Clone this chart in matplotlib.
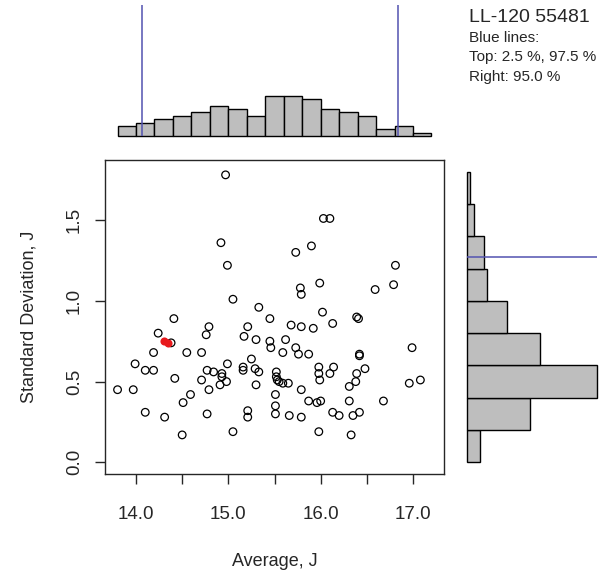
"""
Scatter of average vs standard deviation with marginal histograms.
"""
import matplotlib.pyplot as plt
import numpy as np

plt.rcParams['font.family'] = ['Liberation Sans', 'DejaVu Sans']

# averages and standard deviations
avg = [
    14.97, 16.03, 16.10, 14.92, 15.73, 15.90, 14.99, 16.81, 15.99, 16.79,
    16.59, 15.78, 15.79, 15.05, 15.33, 16.02, 14.41, 15.45, 16.39, 16.41,
    14.79, 15.21, 15.68, 15.79, 16.13, 15.92, 14.24, 14.76, 15.17, 15.30,
    15.45, 15.62, 14.38, 14.19, 14.55, 14.71, 15.46, 15.59, 15.73, 15.76,
    15.87, 16.42, 16.42, 16.99, 13.99, 14.99, 15.25, 14.10, 14.19, 14.77,
    14.84, 14.93, 14.93, 15.16, 15.16, 15.29, 15.33, 15.52, 15.98, 15.98,
    16.14, 16.10, 16.39, 16.48, 14.42, 14.71, 14.98, 15.52, 15.53, 15.55,
    15.59, 15.65, 15.99, 16.38, 17.08, 16.96, 13.80, 13.97, 14.79, 14.91,
    15.30, 15.79, 16.31, 14.59, 15.51, 14.51, 15.87, 16.00, 15.96, 16.31,
    16.68, 15.51, 15.21, 14.10, 14.77, 15.51, 15.66, 16.13, 16.20, 16.35,
    16.42, 14.31, 15.21, 15.79, 15.05, 15.98, 14.50, 16.33,
]
sd = [
    1.78, 1.51, 1.51, 1.36, 1.30, 1.34, 1.22, 1.22, 1.11, 1.10,
    1.07, 1.08, 1.04, 1.01, 0.96, 0.93, 0.89, 0.89, 0.90, 0.89,
    0.84, 0.84, 0.85, 0.84, 0.86, 0.83, 0.80, 0.79, 0.78, 0.76,
    0.75, 0.76, 0.74, 0.68, 0.68, 0.68, 0.71, 0.68, 0.71, 0.67,
    0.67, 0.67, 0.66, 0.71, 0.61, 0.61, 0.64, 0.57, 0.57, 0.57,
    0.56, 0.55, 0.53, 0.59, 0.57, 0.58, 0.56, 0.56, 0.59, 0.55,
    0.59, 0.55, 0.55, 0.58, 0.52, 0.51, 0.50, 0.53, 0.51, 0.50,
    0.49, 0.49, 0.51, 0.50, 0.51, 0.49, 0.45, 0.45, 0.45, 0.48,
    0.48, 0.45, 0.47, 0.42, 0.42, 0.37, 0.38, 0.38, 0.37, 0.38,
    0.38, 0.35, 0.32, 0.31, 0.30, 0.30, 0.29, 0.31, 0.29, 0.29,
    0.31, 0.28, 0.28, 0.28, 0.19, 0.19, 0.17, 0.17,
]
# highlighted sample
red_avg = [14.30, 14.35]
red_sd = [0.75, 0.74]

# marginal histograms (counts per 0.2 bin)
top_edges = np.arange(13.8, 17.2, 0.2)
top_counts = [3, 4, 5, 6, 7, 9, 8, 6, 12, 12, 11, 8, 7, 6, 2, 3, 1]
right_edges = np.arange(0.0, 1.8, 0.2)
right_counts = [4, 19, 39, 22, 12, 6, 5, 2, 1]

# quantile lines
top_q = [14.07, 16.84]
right_q = 1.27

title = "LL-120 55481"
note = ["Blue lines:", "Top: 2.5 %, 97.5 %", "Right: 95.0 %"]

xlim = (13.664, 17.336)
ylim = (-0.072, 1.872)
hmax = 39
grey = "#bebebe"
blue = "#5252b0"
ink = "#262626"

fig = plt.figure(figsize=(6.06, 5.73), dpi=100)
W, H = 606, 573


def box(l, t, r, b):
    return [l / W, 1 - b / H, (r - l) / W, (b - t) / H]


ax = fig.add_axes(box(105, 160, 444, 474))
ax_top = fig.add_axes(box(105, 5, 444, 136))
ax_r = fig.add_axes(box(467, 160, 597, 474))

ax.scatter(avg, sd, s=30, facecolors="none", edgecolors="black", linewidths=0.9, zorder=3)
ax.scatter(red_avg, red_sd, s=34, color="#e8191c", linewidths=0, zorder=4)
ax.set_xlim(xlim)
ax.set_ylim(ylim)
ax.set_xticks(np.arange(14.0, 17.01, 0.5))
ax.set_xticklabels(["14.0", "", "15.0", "", "16.0", "", "17.0"])
ax.set_yticks([0.0, 0.5, 1.0, 1.5])
ax.set_yticklabels(["0.0", "0.5", "1.0", "1.5"], rotation=90, va="center")
ax.tick_params(length=7, width=1, color=ink, labelcolor=ink, labelsize=13.5)
ax.tick_params(axis="x", pad=16)
ax.tick_params(axis="y", pad=9)
for s in ax.spines.values():
    s.set_color(ink)
    s.set_linewidth(1)
ax.set_xlabel("Average, J", fontsize=13, color=ink, labelpad=22)
ax.set_ylabel("Standard Deviation, J", fontsize=13, color=ink, labelpad=20)

ax_top.bar(top_edges, top_counts, width=0.2, align="edge", color=grey,
           edgecolor="black", linewidth=1, clip_on=False)
for q in top_q:
    ax_top.axvline(q, color=blue, lw=1.1)
ax_top.set_xlim(xlim)
ax_top.set_ylim(0, hmax)
ax_top.axis("off")

ax_r.barh(right_edges, right_counts, height=0.2, align="edge", color=grey,
          edgecolor="black", linewidth=1, clip_on=False)
ax_r.axhline(right_q, color=blue, lw=1.1)
ax_r.set_ylim(ylim)
ax_r.set_xlim(0, hmax)
ax_r.axis("off")

fig.text(469 / W, 1 - 18 / H, title, fontsize=14, color=ink, va="center")
for i, line in enumerate(note):
    fig.text(469 / W, 1 - (38 + 19.5 * i) / H, line, fontsize=11, color=ink, va="center")

fig.savefig("out.png", dpi=100)
